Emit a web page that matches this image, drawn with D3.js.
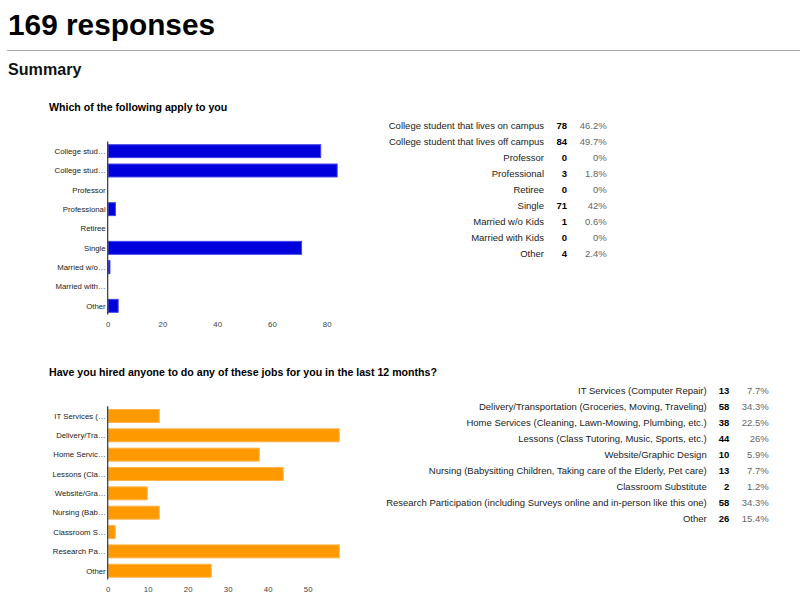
<!DOCTYPE html>
<html>
<head>
<meta charset="utf-8">
<script src="https://cdn.jsdelivr.net/npm/d3@7/dist/d3.min.js"></script>
<style>
  html, body { margin: 0; padding: 0; background: #fff; }
  svg { display: block; font-family: "Liberation Sans", Arial, sans-serif; }
</style>
</head>
<body>
<svg id="chart" width="800" height="613"></svg>
<script>
// ---------- DATA ----------
const responsesTitle = "169 responses";
const summaryTitle = "Summary";

const q1Title = "Which of the following apply to you";
const q1Categories = ["College student that lives on campus", "College student that lives off campus", "Professor", "Professional", "Retiree", "Single", "Married w/o Kids", "Married with Kids", "Other"];
const q1AxisLabels = ["College stud\u2026", "College stud\u2026", "Professor", "Professional", "Retiree", "Single", "Married w/o\u2026", "Married with\u2026", "Other"];
const q1Counts = [78, 84, 0, 3, 0, 71, 1, 0, 4];
const q1Percents = ["46.2%", "49.7%", "0%", "1.8%", "0%", "42%", "0.6%", "0%", "2.4%"];
const q1Ticks = [0, 20, 40, 60, 80];

const q2Title = "Have you hired anyone to do any of these jobs for you in the last 12 months?";
const q2Categories = ["IT Services (Computer Repair)", "Delivery/Transportation (Groceries, Moving, Traveling)", "Home Services (Cleaning, Lawn-Mowing, Plumbing, etc.)", "Lessons (Class Tutoring, Music, Sports, etc.)", "Website/Graphic Design", "Nursing (Babysitting Children, Taking care of the Elderly, Pet care)", "Classroom Substitute", "Research Participation (including Surveys online and in-person like this one)", "Other"];
const q2AxisLabels = ["IT Services (\u2026", "Delivery/Tra\u2026", "Home Servic\u2026", "Lessons (Cla\u2026", "Website/Gra\u2026", "Nursing (Bab\u2026", "Classroom S\u2026", "Research Pa\u2026", "Other"];
const q2Counts = [13, 58, 38, 44, 10, 13, 2, 58, 26];
const q2Percents = ["7.7%", "34.3%", "22.5%", "26%", "5.9%", "7.7%", "1.2%", "34.3%", "15.4%"];
const q2Ticks = [0, 10, 20, 30, 40, 50];

// ---------- DRAW ----------
const svg = d3.select("#chart");

svg.append("text").attr("x", 8).attr("y", 35)
  .attr("font-size", 29.8).attr("font-weight", "bold").attr("fill", "#000")
  .text(responsesTitle);

svg.append("line").attr("x1", 7).attr("x2", 800).attr("y1", 50.5).attr("y2", 50.5)
  .attr("stroke", "#aaa").attr("stroke-width", 1);

svg.append("text").attr("x", 8).attr("y", 75)
  .attr("font-size", 16.1).attr("font-weight", "bold").attr("fill", "#111")
  .text(summaryTitle);

function drawQuestion(cfg) {
  const g = svg.append("g");
  g.append("text").attr("x", 49).attr("y", cfg.titleY)
    .attr("font-size", 10.6).attr("font-weight", "bold").attr("fill", "#000")
    .text(cfg.title);

  const y = d3.scaleBand().domain(d3.range(cfg.counts.length))
    .range(cfg.yRange).paddingInner(0.28).paddingOuter(0.14);
  const x = d3.scaleLinear().domain(cfg.xDomain).range(cfg.xRange);

  // bars
  g.selectAll("rect.bar").data(cfg.counts.map((v, i) => ({v, i})).filter(d => d.v > 0))
    .enter().append("rect").attr("class", "bar")
    .attr("x", x(0) + 0.5)
    .attr("y", d => y(d.i) + 0.5)
    .attr("width", d => x(d.v) - x(0) - 1)
    .attr("height", y.bandwidth() - 1)
    .attr("fill", cfg.fill).attr("stroke", cfg.stroke).attr("stroke-width", 1);

  // vertical baseline
  g.append("line").attr("x1", x(0)).attr("x2", x(0))
    .attr("y1", cfg.yRange[0]).attr("y2", cfg.yRange[1] - 1)
    .attr("stroke", "#333").attr("stroke-width", 1.2);

  // category labels
  g.selectAll("text.cat").data(cfg.axisLabels).enter().append("text")
    .attr("class", "cat")
    .attr("x", x(0) - 2)
    .attr("y", (d, i) => y(i) + y.bandwidth() / 2 + 2.8)
    .attr("text-anchor", "end").attr("font-size", 7.8).attr("fill", "#222")
    .text(d => d);

  // x ticks
  const axis = d3.axisBottom(x).tickValues(cfg.ticks).tickSize(0).tickPadding(0);
  const ax = g.append("g").attr("transform", `translate(0,${cfg.tickY})`).call(axis);
  ax.select(".domain").remove();
  ax.selectAll("text").attr("font-size", 7.8).attr("fill", "#444")
    .attr("font-family", "'Liberation Sans', Arial, sans-serif").attr("dy", 0);

  // table
  const rows = g.selectAll("g.row").data(cfg.categories).enter().append("g")
    .attr("transform", (d, i) => `translate(0,${cfg.tableY0 + i * 16})`);
  rows.append("text").attr("x", cfg.labelRight).attr("y", 3.4)
    .attr("text-anchor", "end").attr("font-size", 9.5).attr("fill", "#222")
    .text(d => d);
  rows.append("text").attr("x", cfg.countRight).attr("y", 3.4)
    .attr("text-anchor", "end").attr("font-size", 9.5).attr("font-weight", "bold").attr("fill", "#000")
    .text((d, i) => cfg.counts[i]);
  rows.append("text").attr("x", cfg.pctRight).attr("y", 3.4)
    .attr("text-anchor", "end").attr("font-size", 9.5).attr("fill", "#666")
    .text((d, i) => cfg.percents[i]);
}

drawQuestion({
  title: q1Title, titleY: 111,
  categories: q1Categories, axisLabels: q1AxisLabels, counts: q1Counts, percents: q1Percents, ticks: q1Ticks,
  yRange: [141.5, 315.5], xDomain: [0, 80], xRange: [107.7, 326.7], tickY: 327,
  fill: "#0000dc", stroke: "#3f3ff0",
  tableY0: 126, labelRight: 544, countRight: 567, pctRight: 606.7
});

drawQuestion({
  title: q2Title, titleY: 376,
  categories: q2Categories, axisLabels: q2AxisLabels, counts: q2Counts, percents: q2Percents, ticks: q2Ticks,
  yRange: [406.3, 580.4], xDomain: [0, 50], xRange: [107.7, 307.7], tickY: 592,
  fill: "#ff9900", stroke: "#ffb347",
  tableY0: 390.7, labelRight: 706.7, countRight: 729.3, pctRight: 768.7
});
</script>
</body>
</html>
